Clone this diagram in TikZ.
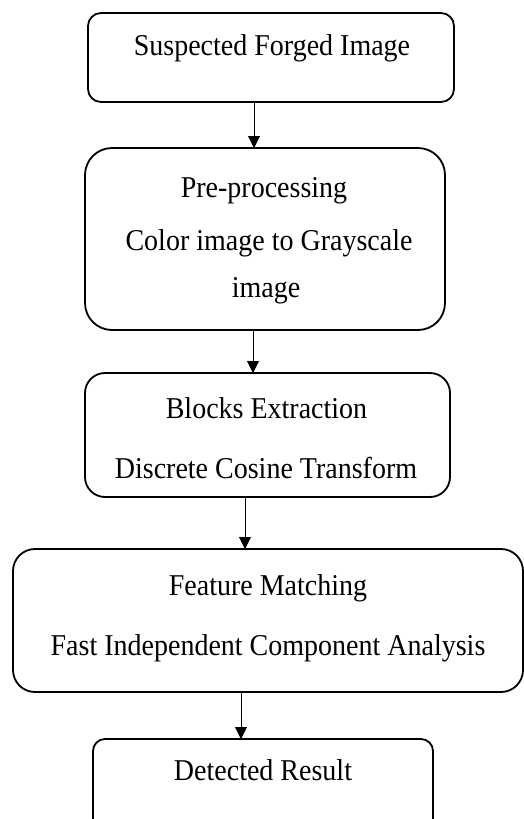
\documentclass[tikz,border=0pt]{standalone}
\usepackage{fontspec}
\setmainfont{Liberation Serif}
\usetikzlibrary{arrows.meta}
\newcommand{\tallt}[1]{\scalebox{1}[1.08]{#1}}
\begin{document}
\begin{tikzpicture}[x=1pt,y=-1pt,
  box/.style={draw=black,line width=1.8pt,rectangle,inner sep=0pt,outer sep=0pt},
  lbl/.style={anchor=base,inner sep=0pt,font=\fontsize{28}{34}\selectfont},
  arr/.style={draw=black,line width=0.9pt,-{Triangle[length=12pt,width=12pt]}}]
\clip (0,0) rectangle (524,819);
\fill[white] (0,0) rectangle (524,819);
% boxes
\node[box,rounded corners=13pt,minimum width=366pt,minimum height=89pt] (b1) at (271,57.5) {};
\node[box,rounded corners=27pt,minimum width=360pt,minimum height=182pt] (b2) at (265,239) {};
\node[box,rounded corners=20pt,minimum width=365pt,minimum height=124pt] (b3) at (267.5,435) {};
\node[box,rounded corners=22pt,minimum width=510pt,minimum height=143pt] (b4) at (268,620.5) {};
\node[box,rounded corners=12pt,minimum width=340pt,minimum height=121pt] (b5) at (263,799.5) {};
% texts
\node[lbl] (t1) at (272,55) {\tallt{Suspected Forged Image}};
\node[lbl] (t2a) at (264,197) {\tallt{Pre-processing}};
\node[lbl] (t2b) at (269,250) {\tallt{Color image to Grayscale}};
\node[lbl] (t2c) at (266,297) {\tallt{image}};
\node[lbl] (t3a) at (266.5,418) {\tallt{Blocks Extraction}};
\node[lbl] (t3b) at (266,478) {\tallt{Discrete Cosine Transform}};
\node[lbl] (t4a) at (268,595) {\tallt{Feature Matching}};
\node[lbl] (t4b) at (268,655) {\tallt{Fast Independent Component Analysis}};
\node[lbl] (t5) at (263,780) {\tallt{Detected Result}};
% arrow positions
\coordinate (x1) at (254,0);
\coordinate (x2) at (253,0);
\coordinate (x3) at (245,0);
\coordinate (x4) at (241,0);
\draw[arr] (b1.south -| x1) -- (b2.north -| x1);
\draw[arr] (b2.south -| x2) -- (b3.north -| x2);
\draw[arr] (b3.south -| x3) -- (b4.north -| x3);
\draw[arr] (b4.south -| x4) -- (b5.north -| x4);
\end{tikzpicture}
\end{document}
